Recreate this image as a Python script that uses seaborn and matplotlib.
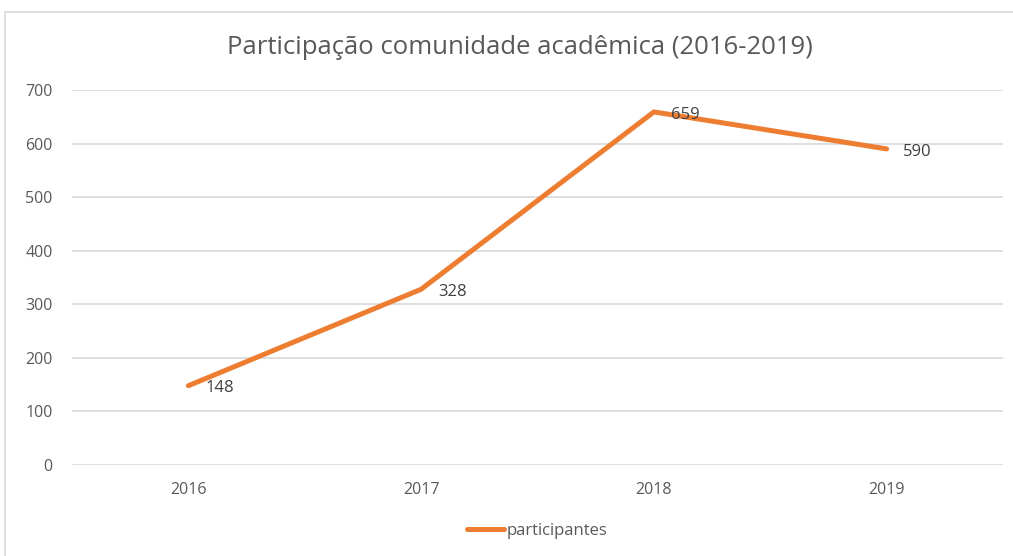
import matplotlib
matplotlib.use("Agg")
import matplotlib.pyplot as plt
import seaborn as sns
import pandas as pd
from matplotlib.patches import Rectangle

# data
years = ["2016", "2017", "2018", "2019"]
participantes = [148, 328, 659, 590]
yticks = [0, 100, 200, 300, 400, 500, 600, 700]

df = pd.DataFrame({"ano": years, "participantes": participantes})

sns.set_theme(style="white")
plt.rcParams["font.family"] = ["Open Sans", "DejaVu Sans"]

fig = plt.figure(figsize=(10.13, 5.56), dpi=100)
ax = fig.add_axes([0.0711, 0.1637, 0.9190, 0.6745])

# chart frame
fig.patches.append(Rectangle((5 / 1013, -0.1), 1.2, 1 - 12 / 556 + 0.1,
                             transform=fig.transFigure, fill=False,
                             edgecolor="#d9d9d9", linewidth=1.2))

sns.lineplot(data=df, x="ano", y="participantes", ax=ax, color="#ED7D31",
             linewidth=3.6, label="participantes", sort=False)

for i, v in enumerate(participantes):
    ax.annotate(str(v), (i, v), xytext=(12, -2), textcoords="offset points",
                ha="left", va="center", fontsize=12, color="#404040")

ax.set_xlim(-0.5, 3.5)
ax.set_ylim(0, 700)
ax.set_yticks(yticks)
ax.grid(axis="y", color="#d9d9d9", linewidth=1.2)
ax.set_axisbelow(True)
for s in ax.spines.values():
    s.set_visible(False)
ax.tick_params(axis="both", length=0, labelsize=11.5, labelcolor="#595959")
ax.tick_params(axis="y", pad=14)
ax.tick_params(axis="x", pad=12)
ax.set_xlabel("")
ax.set_ylabel("")

fig.text(0.513, 0.915, "Participação comunidade acadêmica (2016-2019)",
         ha="center", va="center", fontsize=18.5, color="#595959")

ax.legend(loc="center", bbox_to_anchor=(0.5, -0.176), frameon=False,
          fontsize=12, labelcolor="#595959", handlelength=2.2,
          handletextpad=0.2)

fig.savefig("out.png", dpi=100)
